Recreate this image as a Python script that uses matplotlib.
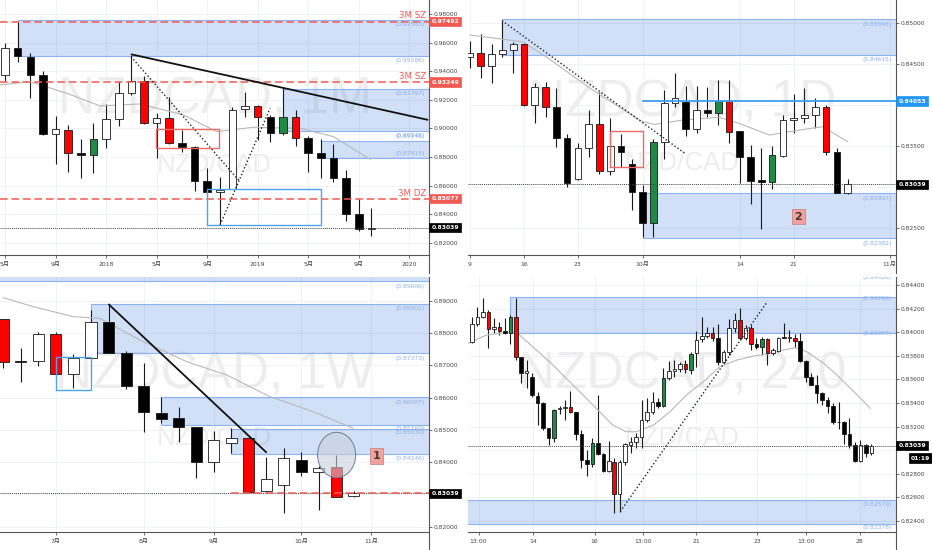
import matplotlib
matplotlib.use("Agg")
import matplotlib.pyplot as plt
import matplotlib.transforms as mtransforms
from matplotlib.patches import Rectangle, Ellipse
from matplotlib.lines import Line2D

plt.rcParams['font.family'] = ['DejaVu Sans', 'Noto Sans CJK SC']

# ======================= DATA =======================
LAST_PRICE = 0.83039

# ---- Panel 1: NZDCAD, 1M (May 2017 - Oct 2019) ----
m_open = [0.9375, 0.9562, 0.9503, 0.9375, 0.8959, 0.8989, 0.8826, 0.8812, 0.8924, 0.9067,
          0.9246, 0.9333, 0.9036, 0.9071, 0.8896, 0.8868, 0.8632, 0.8553, 0.8576, 0.9134,
          0.9160, 0.9083, 0.8966, 0.9083, 0.8936, 0.8826, 0.8796, 0.8655, 0.8398, 0.8296]
m_high = [0.9601, 0.9749, 0.9527, 0.9403, 0.9088, 0.9024, 0.8924, 0.9036, 0.9169, 0.9328,
          0.9515, 0.9368, 0.9106, 0.9223, 0.8989, 0.8877, 0.8721, 0.8662, 0.9153, 0.9258,
          0.9165, 0.9095, 0.9281, 0.9130, 0.8947, 0.8924, 0.8891, 0.8709, 0.8506, 0.8440]
m_low = [0.9333, 0.9468, 0.9211, 0.8955, 0.8749, 0.8697, 0.8651, 0.8686, 0.8861, 0.9017,
         0.9235, 0.9029, 0.8791, 0.8891, 0.8838, 0.8564, 0.8546, 0.8324, 0.8574, 0.9083,
         0.8919, 0.8903, 0.8954, 0.8880, 0.8697, 0.8651, 0.8627, 0.8354, 0.8282, 0.8247]
m_close = [0.9562, 0.9508, 0.9375, 0.8959, 0.8994, 0.8826, 0.8812, 0.8924, 0.9067, 0.9246,
           0.9333, 0.9036, 0.9071, 0.8896, 0.8868, 0.8632, 0.8553, 0.8569, 0.9130, 0.9160,
           0.9083, 0.8966, 0.9083, 0.8936, 0.8826, 0.8796, 0.8655, 0.8398, 0.8296, 0.83039]
m_marks = ".....r.g.." ".r.r......" "r.gr......"
m_ma_x = [-0.4, 1.98, 4.88, 7.52, 10.69, 14.12, 16.75, 19.66, 23.35, 25.99, 28.89]
m_ma = [0.93048, 0.93281, 0.92464, 0.91576, 0.91716, 0.90945, 0.89777, 0.90081, 0.90011, 0.89427, 0.87838]
m_xticks = [0, 4, 8, 12, 16, 20, 24, 28, 32]
m_xlabels = ['5月', '9月', '2018', '5月', '9月', '2019', '5月', '9月', '2020']
m_yticks = [0.82, 0.84, 0.86, 0.88, 0.90, 0.92, 0.94, 0.96, 0.98]
m_zone_start = [1, 22, 25]
m_zone_top = [0.97583, 0.92797, 0.89146]
m_zone_bot = [0.95086, 0.89848, 0.87915]
m_levels = [0.97492, 0.93249, 0.85077]
m_level_names = ['3M SZ', '3M SZ', '3M DZ']
m_trend = ([9.97, 33.5], [0.95197, 0.90595])
m_dot1 = ([9.97, 18.6], [0.95033, 0.86270])
m_dot2 = ([17.02, 20.98], [0.83237, 0.91413])
m_red_box = (11.95, 16.97, 0.88609, 0.89941)
m_blue_box = (15.96, 24.99, 0.83237, 0.85760)

# ---- Panel 2: NZDCAD, 1D (9 Sep - 28 Oct 2019) ----
d_open = [0.84585, 0.84634, 0.84484, 0.84626, 0.84675, 0.84744, 0.84004, 0.84220, 0.83984, 0.83598,
          0.83098, 0.83476, 0.83772, 0.83203, 0.83508, 0.83285, 0.82947, 0.82569, 0.83557, 0.84024,
          0.84045, 0.83707, 0.83943, 0.83902, 0.84053, 0.83687, 0.83374, 0.83085, 0.83069, 0.83386,
          0.83821, 0.83850, 0.83882, 0.83976, 0.83435, 0.82927]
d_high = [0.84789, 0.84870, 0.84748, 0.85033, 0.84776, 0.84756, 0.84276, 0.84289, 0.84207, 0.83650,
          0.83545, 0.83943, 0.84167, 0.83841, 0.83650, 0.83341, 0.83028, 0.83585, 0.84187, 0.84398,
          0.84236, 0.84236, 0.84220, 0.84309, 0.84309, 0.83691, 0.83516, 0.83476, 0.83504, 0.83882,
          0.84138, 0.84207, 0.84093, 0.84004, 0.83484, 0.83102]
d_low = [0.84451, 0.84329, 0.84268, 0.84594, 0.84398, 0.83992, 0.83780, 0.83862, 0.83496, 0.83000,
         0.83089, 0.83374, 0.83163, 0.83150, 0.83252, 0.82724, 0.82398, 0.82398, 0.83341, 0.83976,
         0.83626, 0.83667, 0.83862, 0.83760, 0.83545, 0.83057, 0.82797, 0.82488, 0.82976, 0.83374,
         0.83667, 0.83789, 0.83728, 0.83394, 0.82927, 0.82919]
d_close = [0.84642, 0.84484, 0.84626, 0.84675, 0.84744, 0.84004, 0.84220, 0.83984, 0.83598, 0.83057,
           0.83476, 0.83772, 0.83203, 0.83508, 0.83427, 0.82947, 0.82569, 0.83557, 0.84024, 0.84093,
           0.83707, 0.83943, 0.83911, 0.84053, 0.83679, 0.83374, 0.83077, 0.83069, 0.83394, 0.83821,
           0.83850, 0.83886, 0.83976, 0.83435, 0.82935, 0.83039]
d_marks = ".r...r.r.." "..r....g.." "...gr...g." "...r.."
d_ma_x = [0, 4.88, 7.04, 11.37, 16.0, 17.08, 19.71, 23.11, 24.96, 27.74, 30.52, 32.68, 35.0]
d_ma = [0.84858, 0.84776, 0.84594, 0.84187, 0.83801, 0.83768, 0.83821, 0.83854, 0.83780, 0.83638,
        0.83699, 0.83740, 0.83557]
d_xticks = [0, 5, 10, 16, 25, 30, 38.9]
d_xlabels = ['9', '16', '23', '10月', '14', '21', '11月']
d_yticks = [0.825, 0.830, 0.835, 0.840, 0.845, 0.850]
d_zone_start = [3, 16]
d_zone_top = [0.85048, 0.82927]
d_zone_bot = [0.84615, 0.82382]
d_level = 0.84053
d_level_start = 16
d_dot = ([2.97, 20.0], [0.85033, 0.83407])
d_red_box = (13.0, 16.0, 0.83252, 0.83691)
d_flag = (30.43, 0.82642, '2')

# ---- Panel 3: NZDCAD, 1W (10 Jun - 28 Oct 2019) ----
w_open = [0.88422, 0.87132, 0.87132, 0.87958, 0.86730, 0.87215, 0.88350, 0.87390, 0.86358, 0.85532,
          0.85378, 0.85099, 0.84016, 0.84583, 0.84759, 0.83107, 0.83293, 0.84067, 0.83706, 0.83840,
          0.82953]
w_high = [0.88422, 0.87524, 0.88020, 0.88020, 0.87338, 0.88711, 0.88897, 0.87442, 0.87060, 0.86028,
          0.85698, 0.85099, 0.84965, 0.85047, 0.84789, 0.84170, 0.84428, 0.84325, 0.83881, 0.84222,
          0.83107]
w_low = [0.86905, 0.86492, 0.86988, 0.86647, 0.86286, 0.87194, 0.87369, 0.86265, 0.84944, 0.85202,
         0.84635, 0.83499, 0.83706, 0.84274, 0.83035, 0.83087, 0.82416, 0.83572, 0.82519, 0.82932,
         0.82932]
w_close = [0.87091, 0.87091, 0.87958, 0.86730, 0.87215, 0.88350, 0.87390, 0.86358, 0.85543, 0.85326,
           0.85099, 0.84016, 0.84686, 0.84738, 0.83066, 0.83468, 0.84119, 0.83706, 0.83830, 0.82932,
           0.83039]
w_marks = "r..r......" "....r....r" "."
w_ma_x = [0, 1.71, 3.99, 5.51, 7.79, 10.46, 12.74, 15.21, 17.68, 19.96]
w_ma = [0.89093, 0.88814, 0.88505, 0.88453, 0.87782, 0.87111, 0.86699, 0.86028, 0.85563, 0.85047]
w_xticks = [3, 8, 12, 17, 21]
w_xlabels = ['7月', '8月', '9月', '10月', '11月']
w_yticks = [0.82, 0.83, 0.84, 0.85, 0.86, 0.87, 0.88, 0.89]
w_zone_start = [-1, 5, 9, 13]
w_zone_top = [0.8990, 0.88902, 0.86007, 0.85030]
w_zone_bot = [0.89606, 0.87373, 0.85160, 0.84246]
w_zone_labels = [0.89606, 0.88902, 0.87373, 0.86007, 0.85160, 0.85030, 0.84246]
w_trend = ([5.99, 15.02], [0.88897, 0.84294])
w_blue_box = (3.0, 4.98, 0.86234, 0.87266)
w_level_start = 13
w_circle = (19.01, 0.84222, 2.17, 0.01404)
w_flag = (21.29, 0.84191, '1')

# ---- Panel 4: NZDCAD, 240 (4h, 11 - 28 Oct 2019) ----
h_open = [0.83914, 0.84067, 0.84132, 0.84174, 0.84024, 0.84041, 0.84013, 0.83990, 0.84132, 0.83787,
          0.83657, 0.83617, 0.83459, 0.83397, 0.83185, 0.83101, 0.83349, 0.83360, 0.83363, 0.83321,
          0.83137, 0.82917, 0.82883, 0.83058, 0.82968, 0.82824, 0.82903, 0.82626, 0.82903, 0.83044,
          0.83067, 0.83109, 0.83256, 0.83321, 0.83411, 0.83377, 0.83609, 0.83671, 0.83688, 0.83728,
          0.83680, 0.83827, 0.83940, 0.83971, 0.83990, 0.83948, 0.83750, 0.83835, 0.84038, 0.84103,
          0.83948, 0.84038, 0.83897, 0.83872, 0.83942, 0.83821, 0.83843, 0.83956, 0.83956, 0.83954,
          0.83925, 0.83756, 0.83623, 0.83553, 0.83488, 0.83425, 0.83377, 0.83242, 0.83236, 0.83134,
          0.83044, 0.82908, 0.83044, 0.82973]
h_high = [0.84132, 0.84216, 0.84293, 0.84188, 0.84123, 0.84089, 0.84118, 0.84146, 0.84287, 0.83793,
          0.83764, 0.83651, 0.83496, 0.83411, 0.83191, 0.83349, 0.83377, 0.83425, 0.83502, 0.83327,
          0.83171, 0.83002, 0.83101, 0.83468, 0.82973, 0.83078, 0.82937, 0.82917, 0.83058, 0.83115,
          0.83143, 0.83425, 0.83440, 0.83490, 0.83445, 0.83694, 0.83756, 0.83764, 0.83750, 0.83764,
          0.83835, 0.84010, 0.84132, 0.84047, 0.84047, 0.84067, 0.83849, 0.84109, 0.84160, 0.84202,
          0.84061, 0.84061, 0.83948, 0.83962, 0.83954, 0.83863, 0.83962, 0.84075, 0.84019, 0.83982,
          0.83990, 0.83764, 0.83651, 0.83637, 0.83496, 0.83454, 0.83397, 0.83411, 0.83247, 0.83270,
          0.83072, 0.83086, 0.83050, 0.83050]
h_low = [0.83906, 0.84055, 0.84123, 0.83863, 0.83990, 0.83976, 0.83985, 0.83897, 0.83764, 0.83567,
         0.83530, 0.83454, 0.83214, 0.83171, 0.83044, 0.83072, 0.83304, 0.83256, 0.83312, 0.83086,
         0.82846, 0.82784, 0.82860, 0.82959, 0.82818, 0.82818, 0.82471, 0.82479, 0.82874, 0.82973,
         0.83016, 0.83016, 0.83242, 0.83307, 0.83355, 0.83369, 0.83595, 0.83623, 0.83660, 0.83651,
         0.83643, 0.83708, 0.83920, 0.83948, 0.83928, 0.83722, 0.83736, 0.83807, 0.84005, 0.83934,
         0.83934, 0.83849, 0.83858, 0.83807, 0.83722, 0.83807, 0.83835, 0.83948, 0.83920, 0.83877,
         0.83750, 0.83581, 0.83553, 0.83397, 0.83383, 0.83312, 0.83219, 0.83180, 0.83050, 0.83016,
         0.82903, 0.82903, 0.82945, 0.82959]
h_close = [0.84070, 0.84132, 0.84174, 0.84024, 0.84041, 0.84013, 0.83990, 0.84132, 0.83787, 0.83657,
           0.83674, 0.83468, 0.83397, 0.83185, 0.83101, 0.83341, 0.83360, 0.83362, 0.83321, 0.83137,
           0.82917, 0.82883, 0.83058, 0.82968, 0.82824, 0.82908, 0.82626, 0.82903, 0.83050, 0.83067,
           0.83115, 0.83256, 0.83321, 0.83411, 0.83377, 0.83609, 0.83671, 0.83688, 0.83730, 0.83685,
           0.83812, 0.83934, 0.83971, 0.83990, 0.83948, 0.83746, 0.83835, 0.84038, 0.84103, 0.83948,
           0.84038, 0.83897, 0.83872, 0.83942, 0.83821, 0.83849, 0.83948, 0.83951, 0.83956, 0.83925,
           0.83756, 0.83623, 0.83553, 0.83482, 0.83425, 0.83377, 0.83242, 0.83236, 0.83134, 0.83044,
           0.82908, 0.83044, 0.82973, 0.83039]
h_marks = ("...r.r.gr." ".....g..r." "..g...r..." ".....g...r" "g...r....r"
           ".r.gr....r" ".........." "....")
h_ma_x = [-0.6, 2.6, 8.0, 11.1, 14.8, 17.2, 20.3, 23.3, 25.7, 28.2, 30.1, 33.2, 36.2, 39.2,
          42.3, 45.3, 48.4, 51.4, 54.5, 57.0, 59.1, 61.2, 64.3, 66.7, 69.8, 72.8]
h_ma = [0.83906, 0.83976, 0.84005, 0.83877, 0.83722, 0.83609, 0.83468, 0.83327, 0.83214, 0.83157,
        0.83157, 0.83214, 0.83327, 0.83468, 0.83581, 0.83708, 0.83764, 0.83798, 0.83820, 0.83850,
        0.83869, 0.83835, 0.83736, 0.83637, 0.83496, 0.83355]
h_xticks = [1.2, 11.1, 22.4, 31.3, 41.0, 52.1, 61.1, 70.9]
h_xlabels = ['13:00', '14', '16', '13:00', '21', '23', '13:00', '28']
h_yticks = [0.824, 0.826, 0.828, 0.830, 0.832, 0.834, 0.836, 0.838, 0.840, 0.842, 0.844]
h_zone_start = [7, -1]
h_zone_top = [0.84296, 0.82579]
h_zone_bot = [0.83997, 0.82378]
h_extra_label = 0.84496
h_dot = ([27.1, 54.0], [0.82480, 0.84260])
h_timer = '01:19'

# ======================= STYLE =======================
RED = '#ff0000'
GREEN = '#1e8a43'
EDGE = '#1a1a1a'
WICK = '#1a1a1a'
AXC = '#555555'
TXT = '#454545'
GRID = '#edf1f8'
ZONE_FC = (0.18, 0.43, 0.86, 0.22)
ZONE_EC = '#8db4ef'
ZONE_TXT = '#8ab0ec'
LEVEL_RED = '#f25a52'
MA_COL = '#b8b8b8'
WM_COL = '#ededed'

W, H = 932, 550
fig = plt.figure(figsize=(W / 100, H / 100), dpi=100)
fig.patch.set_facecolor('white')


def px_axes(x0, y0, x1, y1):
    return fig.add_axes([x0 / W, 1 - y1 / H, (x1 - x0) / W, (y1 - y0) / H])


ax1 = px_axes(0, 0, 429, 255)
ax2 = px_axes(468, 0, 896, 255)
ax3 = px_axes(0, 277, 429, 532)
ax4 = px_axes(468, 277, 896, 532)


def blend(ax):
    return mtransforms.blended_transform_factory(ax.transAxes, ax.transData)


def setup(ax, xlim, ylim, yticks, xticks, xlabels, covered=()):
    ax.set_xlim(*xlim)
    ax.set_ylim(*ylim)
    ax.yaxis.tick_right()
    ax.set_yticks(yticks)
    # labels hidden behind the price tags are left blank
    ax.set_yticklabels(['' if any(abs(v - c) < 1e-9 for c in covered) else f"{v:.5f}" for v in yticks])
    ax.set_xticks(xticks)
    ax.set_xticklabels(xlabels)
    for s in ['top', 'left']:
        ax.spines[s].set_visible(False)
    for s in ['right', 'bottom']:
        ax.spines[s].set_color(AXC)
        ax.spines[s].set_linewidth(0.8)
    ax.tick_params(axis='y', length=2, width=0.6, colors=AXC, labelcolor=TXT, labelsize=4.3, pad=1.5)
    ax.tick_params(axis='x', length=2, width=0.6, colors=AXC, labelcolor=TXT, labelsize=4.4, pad=3.3)
    ax.grid(True, color=GRID, lw=0.6)
    ax.set_axisbelow(True)
    ax.set_facecolor('white')


def watermark(ax, title, y1, y2):
    ax.text(0.5, y1, title, transform=ax.transAxes, ha='center', va='center', fontsize=37,
            color=WM_COL, family='Liberation Sans', zorder=0.7)
    ax.text(0.5, y2, 'NZD/CAD', transform=ax.transAxes, ha='center', va='center', fontsize=18.6,
            color=WM_COL, family='Liberation Sans', zorder=0.7)


def candles(ax, o, h, l, c, marks, width, minh):
    xs = list(range(len(o)))
    cols = []
    for oi, ci, mk in zip(o, c, marks):
        if mk == 'r':
            cols.append(RED)
        elif mk == 'g':
            cols.append(GREEN)
        else:
            cols.append('white' if ci >= oi else 'black')
    ax.vlines(xs, l, h, colors=WICK, lw=0.8, zorder=3)
    bots, hts = [], []
    for oi, ci in zip(o, c):
        lo, hi = min(oi, ci), max(oi, ci)
        if hi - lo < minh:
            mid = (hi + lo) / 2
            lo, hi = mid - minh / 2, mid + minh / 2
        bots.append(lo)
        hts.append(hi - lo)
    ax.bar(xs, hts, width, bottom=bots, color=cols, edgecolor=EDGE, linewidth=0.6, zorder=4)


def zones(ax, starts, tops, bots):
    xmax = ax.get_xlim()[1]
    for x0, t, b in zip(starts, tops, bots):
        ax.add_patch(Rectangle((x0, b), xmax - x0 + 5, t - b, facecolor=ZONE_FC,
                               edgecolor=ZONE_EC, lw=0.8, zorder=2))


def zone_label(ax, value, dy_px):
    ax.annotate(f"({value:.5f})", xy=(0.99, value), xycoords=blend(ax),
                xytext=(0, dy_px * 0.72), textcoords='offset points', ha='right', va='center',
                fontsize=4.3, color=ZONE_TXT, zorder=6, clip_on=True)


def tag(ax, value, text, fc, dx_px=2.5, ha='left', xa=1.0):
    ax.annotate(text, xy=(xa, value), xycoords=blend(ax), xytext=(dx_px * 0.72, 0),
                textcoords='offset points', ha=ha, va='center', fontsize=4.4, color='white',
                fontweight='bold', annotation_clip=False, zorder=20,
                bbox=dict(boxstyle='square,pad=0.35', fc=fc, ec=fc, lw=0.5))


def last_line(ax):
    ax.axhline(LAST_PRICE, color='#444444', lw=0.7, ls=(0, (1, 1)), zorder=5)


def flag(ax, f):
    ax.text(f[0], f[1], f[2], ha='center', va='center', fontsize=8, fontweight='bold',
            color='#3a3a3a', zorder=8,
            bbox=dict(boxstyle='square,pad=0.25', fc='#f4a19d', ec='#c98c8a', lw=0.6))


def box(ax, b, color):
    ax.add_patch(Rectangle((b[0], b[2]), b[1] - b[0], b[3] - b[2], fill=False,
                           edgecolor=color, lw=1.0, zorder=6))


# ---------------- Panel 1 ----------------
setup(ax1, (-0.40, 33.56), (0.8113, 0.9900), m_yticks, m_xticks, m_xlabels)
watermark(ax1, 'NZDCAD, 1M', 0.608, 0.353)
zones(ax1, m_zone_start, m_zone_top, m_zone_bot)
for v, dy in zip([m_zone_top[0], m_zone_bot[0], m_zone_top[1], m_zone_bot[1], m_zone_top[2], m_zone_bot[2]],
                 [-4.5, -5, -5, -4.5, 4, 4.3]):
    zone_label(ax1, v, dy)
ax1.plot(m_ma_x, m_ma, color=MA_COL, lw=0.8, zorder=3.5)
candles(ax1, m_open, m_high, m_low, m_close, m_marks, 0.6, 0.0006)
for v, name in zip(m_levels, m_level_names):
    ax1.axhline(v, color=LEVEL_RED, lw=1.1, ls=(0, (5, 2.5)), zorder=5)
    ax1.annotate(name, xy=(0.993, v), xycoords=blend(ax1), xytext=(0, 4.0),
                 textcoords='offset points', ha='right', va='center', fontsize=6.2,
                 color=LEVEL_RED, zorder=7)
    tag(ax1, v, f"{v:.5f}", LEVEL_RED)
ax1.plot(*m_trend, color='#111111', lw=1.3, zorder=6, solid_capstyle='butt')
ax1.plot(*m_dot1, color='#222222', lw=1.0, ls=(0, (1, 1.6)), zorder=6)
ax1.plot(*m_dot2, color='#222222', lw=1.0, ls=(0, (1, 1.6)), zorder=6)
box(ax1, m_red_box, '#f06a63')
box(ax1, m_blue_box, '#4aa3ee')
last_line(ax1)
tag(ax1, LAST_PRICE, f"{LAST_PRICE:.5f}", '#000000')

# ---------------- Panel 2 ----------------
setup(ax2, (-0.185, 39.48), (0.82175, 0.85285), d_yticks, d_xticks, d_xlabels, covered=(0.840, 0.830))
watermark(ax2, 'NZDCAD, 1D', 0.596, 0.361)
zones(ax2, d_zone_start, d_zone_top, d_zone_bot)
for v in [d_zone_top[0], d_zone_bot[0], d_zone_top[1], d_zone_bot[1]]:
    zone_label(ax2, v, -5)
ax2.plot(d_ma_x, d_ma, color=MA_COL, lw=0.8, zorder=3.5)
candles(ax2, d_open, d_high, d_low, d_close, d_marks, 0.62, 0.00012)
ax2.plot([d_level_start, ax2.get_xlim()[1]], [d_level, d_level], color='#3d9df0', lw=1.3, zorder=6)
ax2.plot(*d_dot, color='#222222', lw=1.0, ls=(0, (1, 1.6)), zorder=6)
box(ax2, d_red_box, '#f06a63')
flag(ax2, d_flag)
last_line(ax2)
tag(ax2, d_level, f"{d_level:.5f}", '#2196f3')
tag(ax2, LAST_PRICE, f"{LAST_PRICE:.5f}", '#000000')

# ---------------- Panel 3 ----------------
setup(ax3, (-0.19, 24.28), (0.81838, 0.89733), w_yticks, w_xticks, w_xlabels, covered=(0.83,))
watermark(ax3, 'NZDCAD, 1W', 0.616, 0.369)
zones(ax3, w_zone_start, w_zone_top, w_zone_bot)
for v, dy in zip(w_zone_labels, [-5.5, -4.7, -5, -5, -3.5, -4, -4.3]):
    zone_label(ax3, v, dy)
ax3.plot(w_ma_x, w_ma, color=MA_COL, lw=0.8, zorder=3.5)
candles(ax3, w_open, w_high, w_low, w_close, w_marks, 0.63, 0.0003)
ax3.plot(*w_trend, color='#111111', lw=1.3, zorder=6, solid_capstyle='butt')
box(ax3, w_blue_box, '#4aa3ee')
last_line(ax3)
ax3.plot([w_level_start, ax3.get_xlim()[1]], [LAST_PRICE, LAST_PRICE], color=LEVEL_RED,
         lw=1.1, ls=(0, (5, 2.5)), zorder=5)
ax3.add_patch(Ellipse((w_circle[0], w_circle[1]), w_circle[2], w_circle[3],
                      facecolor=(0.78, 0.81, 0.87, 0.6), edgecolor='#6e7c94', lw=0.7, zorder=7))
flag(ax3, w_flag)
tag(ax3, LAST_PRICE, f"{LAST_PRICE:.5f}", '#000000')

# ---------------- Panel 4 ----------------
setup(ax4, (-0.73, 77.5), (0.82307, 0.84468), h_yticks, h_xticks, h_xlabels, covered=(0.830,))
watermark(ax4, 'NZDCAD, 240', 0.616, 0.369)
zones(ax4, h_zone_start, h_zone_top, h_zone_bot)
for v, dy in zip([h_zone_top[0], h_zone_bot[0], h_zone_top[1], h_zone_bot[1], h_extra_label],
                 [-1, -1, -5, -4, -4]):
    zone_label(ax4, v, dy)
ax4.plot(h_ma_x, h_ma, color=MA_COL, lw=0.8, zorder=3.5)
candles(ax4, h_open, h_high, h_low, h_close, h_marks, 0.65, 0.00008)
ax4.plot(*h_dot, color='#222222', lw=1.0, ls=(0, (1, 1.6)), zorder=6)
last_line(ax4)
tag(ax4, LAST_PRICE, f"{LAST_PRICE:.5f}", '#000000')
ax4.annotate(h_timer, xy=(1.0, LAST_PRICE), xycoords=blend(ax4), xytext=(34 * 0.72, -12.5 * 0.72),
             textcoords='offset points', ha='right', va='center', fontsize=4.4, color='white',
             fontweight='bold', annotation_clip=False, zorder=20,
             bbox=dict(boxstyle='square,pad=0.35', fc='#000000', ec='#000000', lw=0.5))

# price-axis line extensions below the time axes
for xp, y0, y1 in [(429, 255, 273), (896, 255, 273), (429, 532, 550), (896, 532, 550)]:
    fig.add_artist(Line2D([xp / W, xp / W], [1 - y0 / H, 1 - y1 / H], transform=fig.transFigure,
                          color=AXC, lw=0.8))

fig.savefig('out.png', dpi=100, facecolor='white')
